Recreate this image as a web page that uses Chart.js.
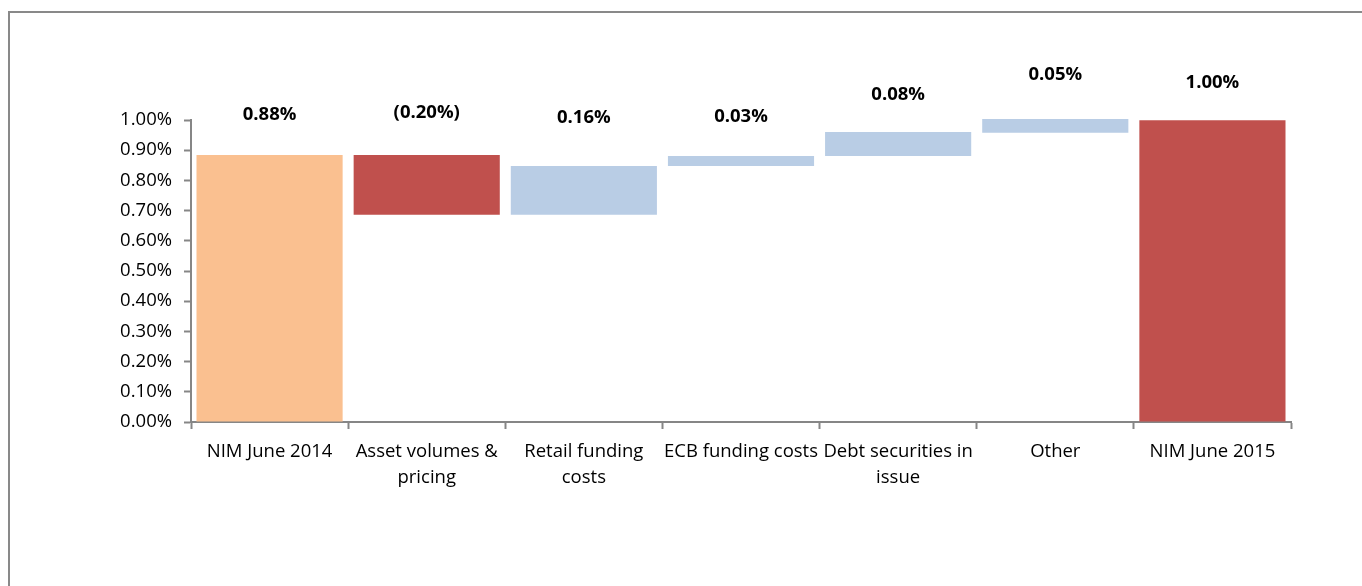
<!DOCTYPE html>
<html>
<head>
<meta charset="utf-8">
<script src="https://cdn.jsdelivr.net/npm/chart.js@4/dist/chart.umd.min.js"></script>
<style>
  html, body { margin: 0; padding: 0; background: #fff; overflow: hidden; }
  #frame { position: absolute; left: 8px; top: 11px; width: 1400px; height: 600px;
           border-top: 2px solid #898989; border-left: 2px solid #898989; }
  #wrap { position: absolute; left: 0; top: 0; width: 1362px; height: 586px; }
</style>
</head>
<body>
<div id="frame"></div>
<div id="wrap"><canvas id="nim"></canvas></div>
<script>
// categories
var categories = [
    "NIM June 2014",
    ["Asset volumes &", "pricing"],
    ["Retail funding", "costs"],
    "ECB funding costs",
    ["Debt securities in", "issue"],
    "Other",
    "NIM June 2015"
];

// bar bottoms and tops (in %)
var barLow  = [0,     0.686, 0.686, 0.848, 0.881, 0.958, 0];
var barHigh = [0.884, 0.884, 0.848, 0.881, 0.960, 1.003, 0.999];

var barColors = ["#FAC090", "#C0504D", "#B9CDE5", "#B9CDE5", "#B9CDE5", "#B9CDE5", "#C0504D"];

// data labels and the height they sit at (in %)
var labelText = ["0.88%", "(0.20%)", "0.16%", "0.03%", "0.08%", "0.05%", "1.00%"];
var labelAt   = [1.017, 1.023, 1.007, 1.010, 1.083, 1.149, 1.123];

var yTicks = [0, 0.1, 0.2, 0.3, 0.4, 0.5, 0.6, 0.7, 0.8, 0.9, 1.0];

var floating = [];
for (var i = 0; i < categories.length; i++) {
    floating.push([barLow[i], barHigh[i]]);
}

var barLabels = {
    id: 'barLabels',
    afterDatasetsDraw: function(chart) {
        var ctx = chart.ctx;
        var x = chart.scales.x;
        var y = chart.scales.y;
        ctx.save();
        ctx.font = 'bold 18.5px "Open Sans"';
        ctx.fillStyle = '#000';
        ctx.textAlign = 'center';
        ctx.textBaseline = 'middle';
        for (var i = 0; i < labelText.length; i++) {
            ctx.fillText(labelText[i], x.getPixelForValue(i), y.getPixelForValue(labelAt[i]));
        }
        ctx.restore();
    }
};

var ctx = document.getElementById("nim");
var chart = new Chart(ctx, {
    type: 'bar',
    data: {
        labels: categories,
        datasets: [{
            data: floating,
            backgroundColor: barColors,
            borderWidth: 0,
            barPercentage: 0.93,
            categoryPercentage: 1.0,
            clip: false
        }]
    },
    options: {
        responsive: true,
        maintainAspectRatio: false,
        animation: false,
        layout: { padding: { top: 120, right: 71, bottom: 0, left: 0 } },
        plugins: {
            legend: { display: false },
            tooltip: { enabled: false }
        },
        scales: {
            x: {
                grid: { display: true, drawOnChartArea: false, offset: true,
                        color: '#868686', tickLength: 7, tickWidth: 2 },
                border: { color: '#868686', width: 2 },
                ticks: {
                    color: '#000',
                    font: { family: 'Open Sans', size: 18.5, lineHeight: 1.4 },
                    maxRotation: 0, minRotation: 0, autoSkip: false, padding: 10
                },
                afterFit: function(s) { s.height = 164; }
            },
            y: {
                min: 0, max: 1.0,
                afterBuildTicks: function(s) {
                    s.ticks = yTicks.map(function(v) { return { value: v }; });
                },
                grid: { display: true, drawOnChartArea: false,
                        color: '#868686', tickLength: 7, tickWidth: 2 },
                border: { color: '#868686', width: 2 },
                ticks: {
                    color: '#000',
                    font: { family: 'Open Sans', size: 18.5 },
                    padding: 12,
                    callback: function(v) { return v.toFixed(2) + '%'; }
                },
                afterFit: function(s) { s.width = 191; }
            }
        }
    },
    plugins: [barLabels]
});
</script>
</body>
</html>
